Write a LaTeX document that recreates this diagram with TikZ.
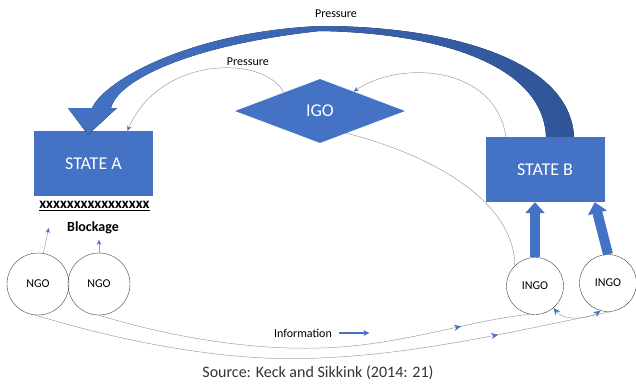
\documentclass[tikz,border=0pt]{standalone}
\usepackage{fontspec}
\setmainfont{Carlito}
\usepackage{tikz}
\usetikzlibrary{arrows.meta,shapes.geometric,decorations.markings,calc}
\definecolor{officeblue}{HTML}{4472C4}
\definecolor{deepblue}{HTML}{2F5597}
\definecolor{linegray}{HTML}{A0A0A0}

\begin{document}
\begin{tikzpicture}[x=1pt,y=-1pt,
    box/.style={rectangle,fill=officeblue,text=white,minimum width=119pt,
                minimum height=65pt,font=\fontsize{18}{20}\selectfont},
    org/.style={circle,draw=black!75,thin,minimum size=#1,inner sep=0pt,
                font=\fontsize{12}{14}\selectfont},
    thinline/.style={draw=linegray,line width=0.5pt},
    tip/.style={-{Stealth[length=5pt,width=4.5pt,officeblue]}},
    fatarrow/.style={draw=officeblue,line width=10pt,
                     -{Triangle[length=11pt,width=19pt]}},
    midtip/.style={postaction={decorate},decoration={markings,
                   mark=at position #1 with {\arrow{Stealth[length=7pt,width=6pt,officeblue]}}}}]
  \useasboundingbox (0,0) rectangle (636,385);

  \node[box] (stateA) at (93.5,163.5) {STATE A};
  \node[box] (stateB) at (545,169.5) {STATE B};
  \node[diamond,fill=officeblue,aspect=2.66,minimum width=170pt,minimum height=64pt,
        inner sep=0pt,text=white,font=\fontsize{18}{20}\selectfont] (igo) at (320,111) {IGO};

  \node[font=\fontsize{15}{17}\selectfont\bfseries] (bar) at (94.5,206)
       {\underline{xxxxxxxxxxxxxxxx}};
  \node[font=\fontsize{14}{16}\selectfont\bfseries] (blockage) at (93,228) {Blockage};

  \node[org=62pt] (ngoA)  at (38,284)  {NGO};
  \node[org=62pt] (ngoB)  at (99,284)  {NGO};
  \node[org=57pt] (ingoA) at (535,286) {INGO};
  \node[org=57pt] (ingoB) at (608,283) {INGO};

  \node[font=\fontsize{12}{14}\selectfont] (pressureTop) at (336,14) {Pressure};
  \node[font=\fontsize{12}{14}\selectfont] (info) at (303,333) {Information};
  \node[font=\fontsize{16}{18}\selectfont,text=black!80] (source) at (318,373)
       {Source: Keck and Sikkink (2014: 21)};

  % big pressure arrow from B to A
  \fill[left color=officeblue,right color=deepblue]
    ([xshift=29pt]stateB.north) .. controls (570,60) and (450,26) .. (320,26)
      .. controls (190,32) and (105,80) .. (92,108)
      -- (68,108) -- ([xshift=-5.5pt,yshift=-4pt]stateA.north) -- (117,108) -- (111,108)
      .. controls (118,80) and (190,45) .. (320,31)
      .. controls (440,33) and (543,65) .. ([xshift=1pt]stateB.north) -- cycle;

  \draw[thinline,tip] (igo.153) .. controls (265,55) and (160,55) ..
        node[pos=0.3,above=1pt,font=\fontsize{12}{14}\selectfont,text=black] (pressureLow) {Pressure}
        ([xshift=34pt]stateA.north);
  \draw[thinline,tip] ([xshift=-39pt]stateB.north) .. controls (495,65) and (400,60) .. (igo.30);
  \draw[thinline] (igo.-40) .. controls (450,160) and (515,210) .. (ingoA.135);

  \draw[fatarrow] (ingoA.north) -- (ingoA.north |- stateB.south);
  \draw[fatarrow] (ingoB.north) -- ([xshift=-10pt]stateB.south east);

  \coordinate (blockTip) at ([xshift=-15pt]blockage.west);
  \draw[thinline,tip] (ngoA.80) -- (blockTip);
  \draw[thinline,tip] (ngoB.north) -- ++(0,-13);

  \draw[thinline,midtip=0.8] (ngoA.-95) .. controls (150,350) and (250,362) .. (320,358)
        .. controls (420,354) and (520,330) .. (ingoB.-80);
  \draw[thinline,midtip=0.84] (ngoB.-90) .. controls (180,340) and (260,350) .. (320,348)
        .. controls (400,346) and (470,320) .. (ingoA.-100);
  \draw[thinline,{Stealth[length=7pt,width=6pt,officeblue]}-{Stealth[length=7pt,width=6pt,officeblue]}]
        (ingoA.-50) .. controls (565,322) and (590,318) .. (ingoB.-105);

  \draw[officeblue,line width=2.5pt,-{Stealth[length=6pt,width=6pt]}] (info.east) ++(4,0) -- ++(30,0);
\end{tikzpicture}
\end{document}
